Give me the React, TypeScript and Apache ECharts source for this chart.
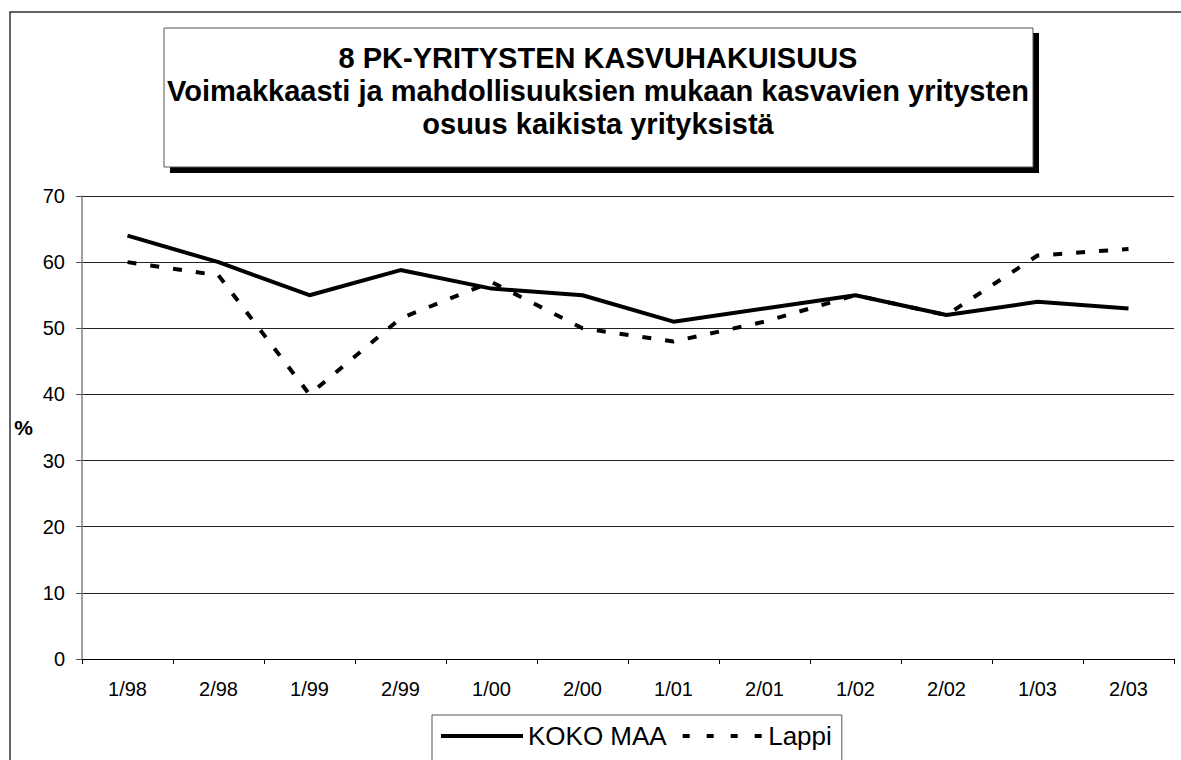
import React, { useEffect, useRef } from "react";
import * as echarts from "echarts";

const categories = ["1/98", "2/98", "1/99", "2/99", "1/00", "2/00", "1/01", "2/01", "1/02", "2/02", "1/03", "2/03"];
const kokoMaa = [64, 60, 55, 58.8, 56, 55, 51, 53, 55, 52, 54, 53];
const lappi = [60, 58, 40, 51.5, 57, 50, 48, 51, 55, 52, 61, 62];
const titleLines = [
  "8 PK-YRITYSTEN KASVUHAKUISUUS",
  "Voimakkaasti ja mahdollisuuksien mukaan kasvavien yritysten",
  "osuus kaikista yrityksistä",
];
const seriesNames = ["KOKO MAA", "Lappi"];

const FONT = "'Liberation Sans', Arial, sans-serif";
const DASH_ICON = "path://M0,0H7V4H0Z M24,0H31V4H24Z M48,0H55V4H48Z M72,0H79V4H72Z";

export default function App() {
  const ref = useRef<HTMLDivElement>(null);
  useEffect(() => {
    if (!ref.current) return;
    const chart = echarts.init(ref.current, null, { renderer: "svg" });
    chart.setOption({
      animation: false,
      backgroundColor: "#fff",
      textStyle: { fontFamily: FONT },
      graphic: [
        {
          type: "rect",
          shape: { x: 10, y: 12, width: 1200, height: 800 },
          style: { fill: "none", stroke: "#333", lineWidth: 1.5 },
          z: -10,
        },
        {
          type: "rect",
          shape: { x: 170, y: 33, width: 869, height: 140 },
          style: { fill: "#000" },
          z: 1,
        },
        {
          type: "rect",
          shape: { x: 164, y: 28, width: 869, height: 139 },
          style: { fill: "#fff", stroke: "#555", lineWidth: 1 },
          z: 2,
        },
      ],
      title: {
        text: titleLines.join("\n"),
        left: 598,
        top: 41,
        textAlign: "center",
        padding: 0,
        z: 10,
        textStyle: {
          fontFamily: FONT,
          fontSize: 29,
          fontWeight: "bold",
          lineHeight: 33,
          color: "#000",
        },
      },
      legend: {
        data: [
          { name: seriesNames[0], icon: "rect" },
          { name: seriesNames[1], icon: DASH_ICON },
        ],
        left: 432,
        top: 715,
        orient: "horizontal",
        backgroundColor: "#fff",
        borderColor: "#555",
        borderWidth: 1,
        padding: [8, 10, 40, 9],
        itemWidth: 82,
        itemHeight: 4,
        itemGap: 16,
        itemStyle: { color: "#000", borderWidth: 0 },
        textStyle: { fontFamily: FONT, fontSize: 26, color: "#000" },
      },
      grid: { left: 82, right: 7, top: 196, bottom: 101, containLabel: false },
      xAxis: {
        type: "category",
        data: categories,
        boundaryGap: true,
        axisLine: { lineStyle: { color: "#000", width: 1 } },
        axisTick: { show: true, length: 5, lineStyle: { color: "#000" } },
        axisLabel: { fontSize: 20, color: "#000", margin: 20, fontFamily: FONT },
      },
      yAxis: {
        type: "value",
        min: 0,
        max: 70,
        interval: 10,
        name: "%",
        nameLocation: "middle",
        nameRotate: 0,
        nameGap: 49,
        nameTextStyle: { fontSize: 21, fontWeight: "bold", color: "#000", fontFamily: FONT },
        axisLine: { show: true, lineStyle: { color: "#808080", width: 1.5 } },
        axisTick: { show: true, length: 6, lineStyle: { color: "#555" } },
        axisLabel: { fontSize: 20, color: "#000", margin: 17, fontFamily: FONT },
        splitLine: { show: true, lineStyle: { color: "#222", width: 1 } },
      },
      series: [
        {
          name: seriesNames[0],
          type: "line",
          data: kokoMaa,
          symbol: "none",
          lineStyle: { color: "#000", width: 4, type: "solid" },
          itemStyle: { color: "#000" },
        },
        {
          name: seriesNames[1],
          type: "line",
          data: lappi,
          symbol: "none",
          lineStyle: { color: "#000", width: 4, type: [9, 14] },
          itemStyle: { color: "#000" },
        },
      ],
    });
    return () => chart.dispose();
  }, []);
  return (
    <div
      ref={ref}
      style={{ position: "absolute", left: 0, top: 0, width: 1181, height: 760 }}
    />
  );
}
